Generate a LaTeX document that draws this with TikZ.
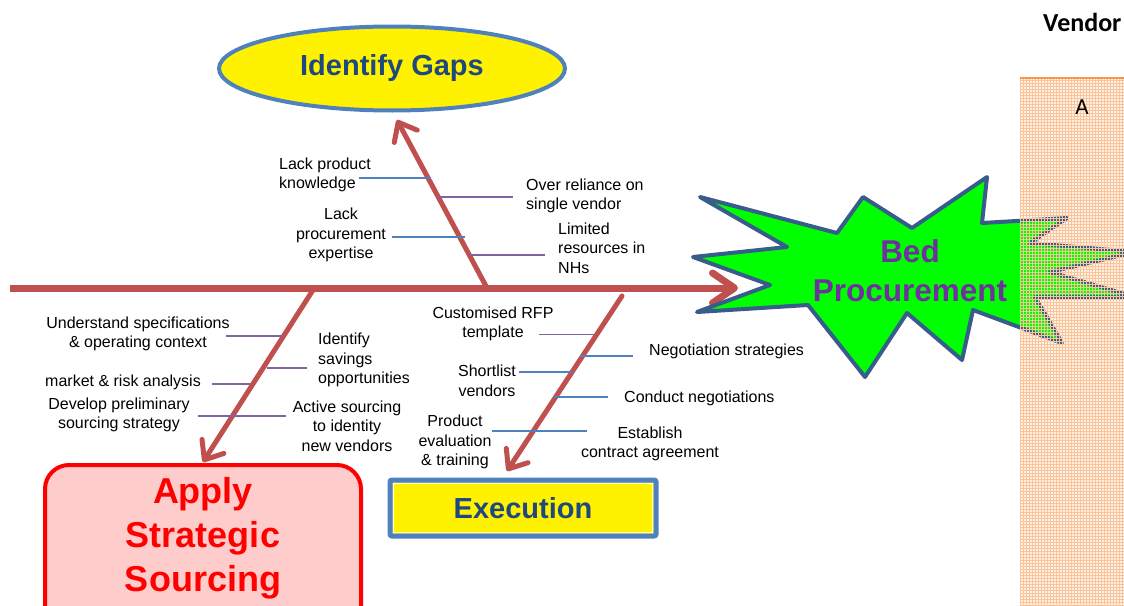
\documentclass[tikz,border=0pt]{standalone}
\usepackage{fontspec}
\setmainfont{Liberation Sans}
\newfontfamily\calib{Carlito}
\usetikzlibrary{arrows.meta,shapes.geometric,patterns}
\definecolor{spine}{RGB}{192,80,77}
\definecolor{blueln}{RGB}{79,129,189}
\definecolor{purpln}{RGB}{128,100,162}
\definecolor{darkbl}{RGB}{31,73,125}
\definecolor{starbd}{RGB}{56,93,138}
\definecolor{purtxt}{RGB}{112,48,160}
\definecolor{pinkfill}{RGB}{255,204,204}
\definecolor{panelor}{RGB}{247,150,70}
\definecolor{panelbg}{RGB}{254,242,232}
\tikzset{
  lbl/.style={inner sep=0pt, font=\fontsize{16}{19.5}\selectfont, text=black},
  bone/.style={draw=spine, line width=5pt, line cap=round,
    -{Straight Barb[length=16pt,width=26pt,round]}},
  bluesub/.style={draw=blueln, line width=1.4pt},
  purpsub/.style={draw=purpln, line width=1.4pt},
}
\begin{document}
\begin{tikzpicture}[x=1pt,y=-1pt]
\useasboundingbox (0,0) rectangle (1124,605);
\clip (0,0) rectangle (1124,605);

% vendor panel background
\fill[panelbg] (1020,78) rectangle (1130,610);

% main spine
\coordinate (sL) at (10,288);
\coordinate (sR) at (738,288);
\draw[draw=spine, line width=7pt,
  -{Straight Barb[length=22pt,width=30pt,round]}] (sL) -- (sR);

% branches
\coordinate (uB) at (487,288);
\coordinate (lB) at (313,290);
\coordinate (rB) at (622,296);

% Nodes
\node[ellipse, draw=blueln, line width=4pt, fill=yellow,
  minimum width=346pt, minimum height=84pt, inner sep=0pt,
  font=\bfseries\fontsize{29}{34}\selectfont, text=darkbl]
  (gaps) at (392,68.5) {Identify Gaps};

\draw[draw=red, line width=4pt, fill=pinkfill, rounded corners=24pt]
  (45,465) rectangle (361,650);
\node[inner sep=0pt, align=center, text=red,
  font=\bfseries\fontsize{36}{44}\selectfont]
  (apply) at (203,538) {Apply\\Strategic\\Sourcing};
\coordinate (applytop) at (203,462);

\draw[draw=blueln, line width=5pt, fill=yellow, rounded corners=2pt]
  (390,480) rectangle (656,536);
\draw[draw=white, line width=0.8pt] (393.5,483.5) rectangle (652.5,532.5);
\node[inner sep=0pt, text=darkbl,
  font=\bfseries\fontsize{29}{34}\selectfont] (exec) at (523,508) {Execution};
\coordinate (exectop) at (507,471);

\draw[bone] (uB) -- (397,120) coordinate (gapsbot);
\draw[bone] (lB) -- (applytop);
\draw[bone] (rB) -- (exectop);

% star
\draw[draw=starbd, line width=4pt, fill=green, line join=round]
  (700,197) -- (837,233) -- (863,197) -- (912,228) -- (987,177) -- (982,223)
  -- (1067,218) -- (1030,243) -- (1135,252) -- (1050,272) -- (1135,297)
  -- (1035,297) -- (1062,343) -- (973,310) -- (962,360) -- (907,313)
  -- (865,377) -- (808,305) -- (697,312) -- (770,285) -- (693,257)
  -- (787,247) -- cycle;
\node[inner sep=0pt, align=center, text=purtxt,
  font=\bfseries\fontsize{31.5}{39}\selectfont] (bed) at (910,271) {Bed\\Procurement};

% vendor panel overlay pattern
\fill[pattern=grid, pattern color=panelor!55, fill opacity=0.28] (1020,78) rectangle (1130,610);
\draw[draw=panelor, line width=2pt] (1020,78) -- (1130,78);
\node[inner sep=0pt, anchor=west, font=\calib\bfseries\fontsize{26}{30}\selectfont]
  (vendor) at (1043,22) {Vendor};
\node[inner sep=0pt, font=\calib\fontsize{23}{27}\selectfont] (va) at (1082,107) {A};

% upper branch labels
\node[lbl, anchor=west, align=left] (u1) at (279,175) {Lack product\\knowledge};
\node[lbl, anchor=west, align=left] (u2) at (526,196) {Over reliance on\\single vendor};
\node[lbl, align=center] (u3) at (341,235) {Lack\\procurement\\expertise};
\node[lbl, anchor=west, align=left] (u4) at (558,248) {Limited\\resources in\\NHs};
\draw[bluesub] (359,178) -- (431,178);
\draw[purpsub] (438,197) -- (513,197);
\draw[bluesub] (392,237) -- (465,237);
\draw[purpsub] (470,255) -- (545,255);

% lower-left labels
\node[lbl, align=center] (l1) at (138,334) {Understand specifications\\\& operating context};
\node[lbl, anchor=west, align=left] (l2) at (318,360) {Identify\\savings\\opportunities};
\node[lbl, anchor=west] (l3) at (45,382) {market \& risk analysis};
\node[lbl, align=center] (l4) at (119,415) {Develop preliminary\\sourcing strategy};
\node[lbl, align=center] (l5) at (347,426) {Active sourcing\\to identity\\new vendors};
\draw[purpsub] (226,336) -- (283,336);
\draw[purpsub] (267,368) -- (307,368);
\draw[purpsub] (212,384) -- (250,384);
\draw[purpsub] (198,416) -- (286,416);

% lower-right labels
\node[lbl, align=center] (r1) at (493,324) {Customised RFP\\template};
\node[lbl, anchor=west] (r2) at (649,351) {Negotiation strategies};
\node[lbl, align=center] (r3) at (487,381) {Shortlist\\vendors};
\node[lbl, anchor=west] (r4) at (624,398) {Conduct negotiations};
\node[lbl, align=center] (r5) at (455,442) {Product\\evaluation\\\& training};
\node[lbl, align=center] (r6) at (650,444) {Establish\\contract agreement};
\draw[draw=purpln, line width=1pt] (539,334) -- (595,334);
\draw[bluesub] (580,356) -- (633,356);
\draw[bluesub] (519,372) -- (573,372);
\draw[bluesub] (553,397) -- (608,397);
\draw[bluesub] (492,431) -- (587,431);
\end{tikzpicture}
\end{document}
